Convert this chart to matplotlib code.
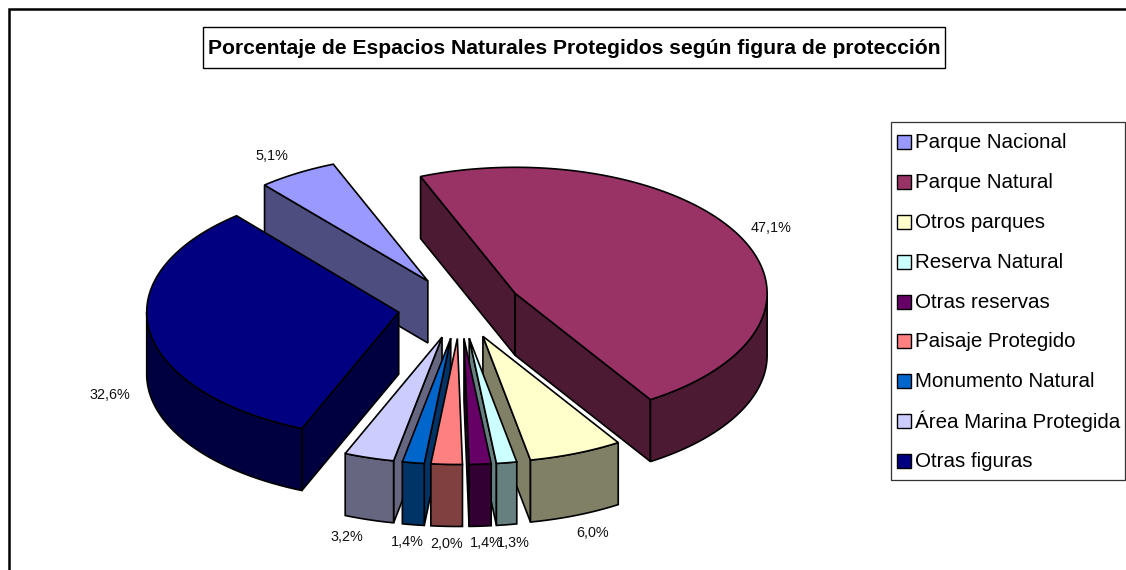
import matplotlib
matplotlib.use("Agg")
import matplotlib.pyplot as plt
import numpy as np
from matplotlib.patches import Polygon, Rectangle

plt.rcParams["font.family"] = ["Liberation Sans", "DejaVu Sans"]

title = "Porcentaje de Espacios Naturales Protegidos según figura de protección"
categories = ["Parque Nacional", "Parque Natural", "Otros parques", "Reserva Natural",
              "Otras reservas", "Paisaje Protegido", "Monumento Natural",
              "Área Marina Protegida", "Otras figuras"]
values = [5.1, 47.1, 6.0, 1.3, 1.4, 2.0, 1.4, 3.2, 32.6]
colors = ["#9999FF", "#993366", "#FFFFCC", "#CCFFFF", "#660066",
          "#FF8080", "#0066CC", "#CCCCFF", "#000080"]
# label centres in pixels, same order as categories
label_pos = [(272, 156), (771, 228), (593, 533), (513, 543), (486, 543),
             (447, 544), (407, 542), (347, 537), (110, 395)]

# pie geometry in pixels
cx, cy = 460, 307.5
rx = 252
squash = 0.5
depth = 62
explode = 62
first_angle = -40.4


def darker(c):
    return tuple(0.5 * v for v in matplotlib.colors.to_rgb(c))


def rim(ox, oy, a0, a1):
    t = np.radians(np.linspace(a0, a1, max(int(a1 - a0) * 2, 2) + 1))
    return np.column_stack([ox + rx * np.sin(t), oy - rx * squash * np.cos(t)])


fig = plt.figure(figsize=(11.26, 5.70), dpi=100)
ax = fig.add_axes([0, 0, 1, 1])
ax.set_xlim(0, 1126)
ax.set_ylim(570, 0)
ax.axis("off")

lw = 1.2
edges = first_angle + np.cumsum([0] + values) * 3.6
mids = (edges[:-1] + edges[1:]) / 2

# back slices first
order = np.argsort(-np.cos(np.radians(mids)))
for i in order:
    a0, a1 = edges[i], edges[i + 1]
    m = np.radians(mids[i])
    ox = cx + explode * np.sin(m)
    oy = cy - explode * squash * np.cos(m)
    top = rim(ox, oy, a0, a1)
    tip = np.array([ox, oy])
    down = np.array([0, depth])
    side = darker(colors[i])

    # radial faces, only the ones turned to the viewer
    if np.sin(np.radians(a0)) < 0:
        ax.add_patch(Polygon([tip, top[0], top[0] + down, tip + down], fc=side, ec="black", lw=lw))
    if np.sin(np.radians(a1)) > 0:
        ax.add_patch(Polygon([tip, top[-1], top[-1] + down, tip + down], fc=side, ec="black", lw=lw))

    # front part of the rim
    f0, f1 = max(a0, 90), min(a1, 270)
    if f1 > f0:
        arc = rim(ox, oy, f0, f1)
        ax.add_patch(Polygon(np.vstack([arc, arc[::-1] + down]), fc=side, ec="black", lw=lw))

    ax.add_patch(Polygon(np.vstack([tip, top]), fc=colors[i], ec="black", lw=lw))

for v, (x, y) in zip(values, label_pos):
    ax.text(x, y, f"{v:.1f}%".replace(".", ","), ha="center", va="center",
            fontsize=10.4, color="#111111")

# title box
ax.add_patch(Rectangle((203, 27), 742, 41, fc="white", ec="black", lw=1.0))
ax.text(574.5, 48.5, title, ha="center", va="center", fontsize=15.25, fontweight="bold")

# legend
ax.add_patch(Rectangle((891, 122), 234, 358, fc="white", ec="#333333", lw=0.9))
rows = [142, 182, 222, 262, 302, 341, 381, 421, 461]
for name, c, y in zip(categories, colors, rows):
    ax.add_patch(Rectangle((897, y - 7), 14, 14, fc=c, ec="black", lw=1.0))
    ax.text(915, y + 0.5, name, ha="left", va="center", fontsize=14.75)

# outer frame
ax.plot([9, 9, 1126], [570, 9, 9], color="black", lw=1.8, solid_joinstyle="miter")

fig.savefig("out.png", dpi=100)
